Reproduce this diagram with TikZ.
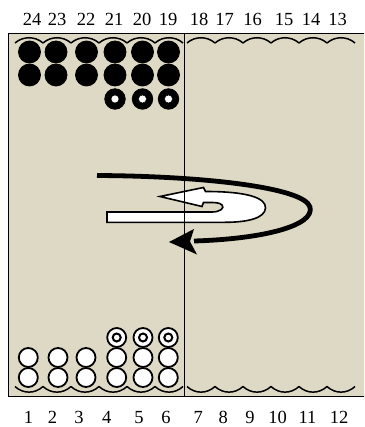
\documentclass[tikz,border=0pt]{standalone}
\usepackage{fontspec}
\setmainfont{Liberation Serif}
\definecolor{boardfill}{RGB}{221,217,196}
\tikzset{
  lbl/.style={anchor=base,inner sep=0pt,font=\fontsize{18.5}{20}\selectfont},
  blackchk/.style={circle,fill=black,draw=black,line width=0.8pt,minimum size=22pt,inner sep=0pt},
  blackring/.style={circle,fill=black,draw=black,line width=0.8pt,minimum size=20.5pt,inner sep=0pt},
  whitechk/.style={circle,fill=white,draw=black,line width=1.8pt,minimum size=19pt,inner sep=0pt},
  scallop/.style={line width=1.5pt},
  edge/.style={line width=1.8pt},
}
\begin{document}
\begin{tikzpicture}[x=1pt,y=-1pt]
\useasboundingbox (0,0) rectangle (364,427);
\clip (0,0) rectangle (364,427);
% board
\fill[boardfill] (8.5,33.5) rectangle (372,396.5);
\draw[edge] (372,33.5) -- (8.5,33.5) -- (8.5,396.5) -- (372,396.5);
% scallops
\foreach \x in {15,43,71,99,127,155,187,215,243,271,299,327}{
  \draw[scallop] (\x,43) .. controls (\x+8,36) and (\x+20,36) .. (\x+28,43);
  \draw[scallop] (\x,386.5) .. controls (\x+8,394) and (\x+20,394) .. (\x+28,386.5);
}
% black checkers
\foreach \x [count=\i] in {29.5,56,86.5,115,142.5,168.5}{
  \node[blackchk] (bA\i) at (\x,52) {};
  \node[blackchk] (bB\i) at (\x,75) {};
}
\foreach \x [count=\i] in {115,142.5,168.5}{
  \node[blackring] (bC\i) at (\x,99) {};
  \node[circle,fill=white,draw=black,line width=0.5pt,minimum size=8pt,inner sep=0pt] (bCc\i) at (\x,99) {};
}
% white checkers
\foreach \x [count=\i] in {28.3,58,86,116.7,143,168.3}{
  \node[whitechk] (wA\i) at (\x,377.5) {};
  \node[whitechk] (wB\i) at (\x,357.5) {};
}
\foreach \x [count=\i] in {116.7,143,168.3}{
  \node[whitechk] (wC\i) at (\x,337.5) {};
  \node[circle,draw=black,line width=2pt,minimum size=8pt,inner sep=0pt] (wCc\i) at (\x,337.5) {};
}
% white arrow
\draw[fill=white,line width=1.6pt,line join=miter]
  (107,212) -- (212,212)
  .. controls (220,212) and (225,208) .. (222,205)
  .. controls (220,202.5) and (214,202.5) .. (210,202.5)
  -- (203.5,202.5) -- (202,206.5) -- (160,196.5) -- (203.5,187.5) -- (205.5,191.5)
  .. controls (248,191.5) and (266,198) .. (265.5,208)
  .. controls (265,218) and (248,222.3) .. (225,222.3)
  -- (107,222.3) -- cycle;
% bar
\draw[line width=1.4pt] (184.3,33.5) -- (184.3,396.5);
% black arrow
\coordinate (cs) at (97,175.5);
\coordinate (ce) at (194,241);
\draw[line width=4.8pt] (cs) .. controls (200,176) and (304,187) .. (310,207)
  .. controls (315,226) and (262,239) .. (ce);
\fill (169,242) -- (194,229) -- (190,241.5) -- (197,254.5) -- cycle;
% labels
\foreach \t/\x [count=\i] in {24/32,23/57,22/86,21/114,20/142,19/168,18/199,17/224.7,16/252.5,15/284,14/311,13/337.5}{
  \node[lbl] (t\i) at (\x,26) {\t};
}
\foreach \t/\x [count=\i] in {1/28.5,2/52.5,3/79,4/106.7,5/139,6/166,7/198.3,8/223.3,9/250,10/277.5,11/307.5,12/339}{
  \node[lbl] (n\i) at (\x,423) {\t};
}
\end{tikzpicture}
\end{document}
